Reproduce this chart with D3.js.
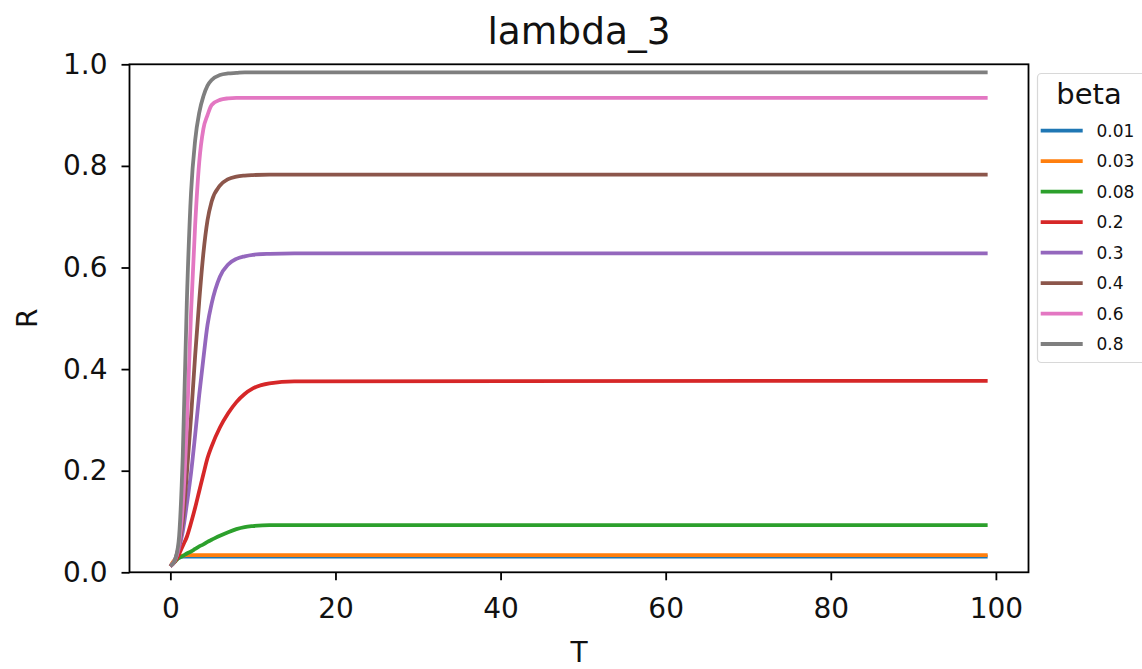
<!DOCTYPE html>
<html>
<head>
<meta charset="utf-8">
<script src="https://d3js.org/d3.v7.min.js"></script>
<style>
  html, body { margin: 0; padding: 0; background: #fff; }
  svg text { font-family: "DejaVu Sans", sans-serif; fill: #111; }
</style>
</head>
<body>
<svg id="chart" width="1142" height="669"></svg>
<script>
// Time steps (the curves are flat from T = 15 onward)
const T = [0, 0.5, 1, 1.5, 2, 2.5, 3, 3.5, 4, 4.5, 5, 6, 7, 8, 9, 10, 12, 15, 99];

// beta values shown in the legend
const betas = ["0.01", "0.03", "0.08", "0.2", "0.3", "0.4", "0.6", "0.8"];

// R(T) for each beta
const r001 = [0.012, 0.023, 0.028, 0.031, 0.031, 0.031, 0.031, 0.031, 0.031, 0.031, 0.031, 0.031, 0.031, 0.031, 0.031, 0.031, 0.031, 0.031, 0.031];
const r003 = [0.012, 0.024, 0.030, 0.033, 0.034, 0.034, 0.034, 0.034, 0.034, 0.034, 0.034, 0.034, 0.034, 0.034, 0.034, 0.034, 0.034, 0.034, 0.034];
const r008 = [0.012, 0.020, 0.028, 0.032, 0.037, 0.041, 0.046, 0.051, 0.055, 0.060, 0.064, 0.072, 0.079, 0.085, 0.089, 0.091, 0.093, 0.093, 0.093];
const r02  = [0.012, 0.020, 0.034, 0.052, 0.070, 0.097, 0.127, 0.160, 0.193, 0.225, 0.248, 0.285, 0.313, 0.335, 0.351, 0.362, 0.372, 0.376, 0.377];
const r03  = [0.012, 0.022, 0.045, 0.080, 0.135, 0.195, 0.270, 0.350, 0.421, 0.487, 0.529, 0.582, 0.606, 0.617, 0.622, 0.625, 0.627, 0.628, 0.628];
const r04  = [0.012, 0.022, 0.050, 0.100, 0.195, 0.305, 0.426, 0.535, 0.628, 0.693, 0.730, 0.761, 0.774, 0.779, 0.781, 0.782, 0.783, 0.783, 0.783];
const r06  = [0.012, 0.022, 0.050, 0.130, 0.290, 0.510, 0.683, 0.808, 0.873, 0.900, 0.920, 0.930, 0.933, 0.934, 0.934, 0.934, 0.934, 0.934, 0.934];
const r08  = [0.012, 0.022, 0.060, 0.228, 0.535, 0.746, 0.850, 0.905, 0.937, 0.958, 0.969, 0.979, 0.982, 0.983, 0.984, 0.984, 0.984, 0.984, 0.984];

const seriesValues = [r001, r003, r008, r02, r03, r04, r06, r08];
const colors = ["#1f77b4", "#ff7f0e", "#2ca02c", "#d62728", "#9467bd", "#8c564b", "#e377c2", "#7f7f7f"];

const xTicks = [0, 20, 40, 60, 80, 100];
const yTicks = [0.0, 0.2, 0.4, 0.6, 0.8, 1.0];

const svg = d3.select("#chart");
const plot = { left: 129.5, right: 1028.5, top: 64.3, bottom: 572.3 };
const tickFont = 28;

const x = d3.scaleLinear().domain([-4.95, 103.95]).range([plot.left, plot.right]);
const y = d3.scaleLinear().domain([0, 1]).range([plot.bottom, plot.top]);

// Curves
const line = d3.line().x(d => x(d[0])).y(d => y(d[1])).curve(d3.curveMonotoneX);
const g = svg.append("g");
seriesValues.forEach((vals, i) => {
  g.append("path")
    .datum(T.map((t, k) => [t, vals[k]]))
    .attr("d", line)
    .attr("fill", "none")
    .attr("stroke", colors[i])
    .attr("stroke-width", 3.8)
    .attr("stroke-linejoin", "round")
    .attr("stroke-linecap", "butt");
});

// Axes
const xAxis = d3.axisBottom(x).tickValues(xTicks).tickFormat(d3.format("d")).tickSize(8).tickPadding(18);
const yAxis = d3.axisLeft(y).tickValues(yTicks).tickFormat(d3.format(".1f")).tickSize(8).tickPadding(14);

const gx = svg.append("g").attr("transform", `translate(0,${plot.bottom})`).call(xAxis);
const gy = svg.append("g").attr("transform", `translate(${plot.left},0)`).call(yAxis);
[gx, gy].forEach(a => {
  a.select(".domain").remove();
  a.selectAll(".tick line").attr("stroke", "#000").attr("stroke-width", 1.8);
  a.selectAll(".tick text").attr("font-size", tickFont).style("fill", "#111");
});

// Frame
svg.append("rect")
  .attr("x", plot.left).attr("y", plot.top)
  .attr("width", plot.right - plot.left).attr("height", plot.bottom - plot.top)
  .attr("fill", "none").attr("stroke", "#000").attr("stroke-width", 1.8);

// Title and axis labels
const cx = (plot.left + plot.right) / 2;
svg.append("text").attr("x", cx).attr("y", 44).attr("text-anchor", "middle")
  .attr("font-size", 37.5).text("lambda_3");
svg.append("text").attr("x", cx).attr("y", 662).attr("text-anchor", "middle")
  .attr("font-size", tickFont).text("T");
svg.append("text").attr("transform", `translate(37,${(plot.top + plot.bottom) / 2}) rotate(-90)`)
  .attr("text-anchor", "middle").attr("font-size", tickFont).text("R");

// Legend
const lg = svg.append("g");
lg.append("rect").attr("x", 1037.5).attr("y", 73.5).attr("width", 130).attr("height", 289)
  .attr("rx", 4).attr("fill", "#fff").attr("fill-opacity", 0.8)
  .attr("stroke", "#d8d8d8").attr("stroke-width", 1.2);
lg.append("text").attr("x", 1089).attr("y", 103.5).attr("text-anchor", "middle")
  .attr("font-size", 29).text("beta");
const ly = d3.scalePoint().domain(betas).range([130.7, 344]);
betas.forEach((b, i) => {
  lg.append("line").attr("x1", 1040.7).attr("x2", 1082.7)
    .attr("y1", ly(b)).attr("y2", ly(b))
    .attr("stroke", colors[i]).attr("stroke-width", 3.8);
  lg.append("text").attr("x", 1096.5).attr("y", ly(b)).attr("dy", "0.36em")
    .attr("font-size", 17).text(b);
});
</script>
</body>
</html>
